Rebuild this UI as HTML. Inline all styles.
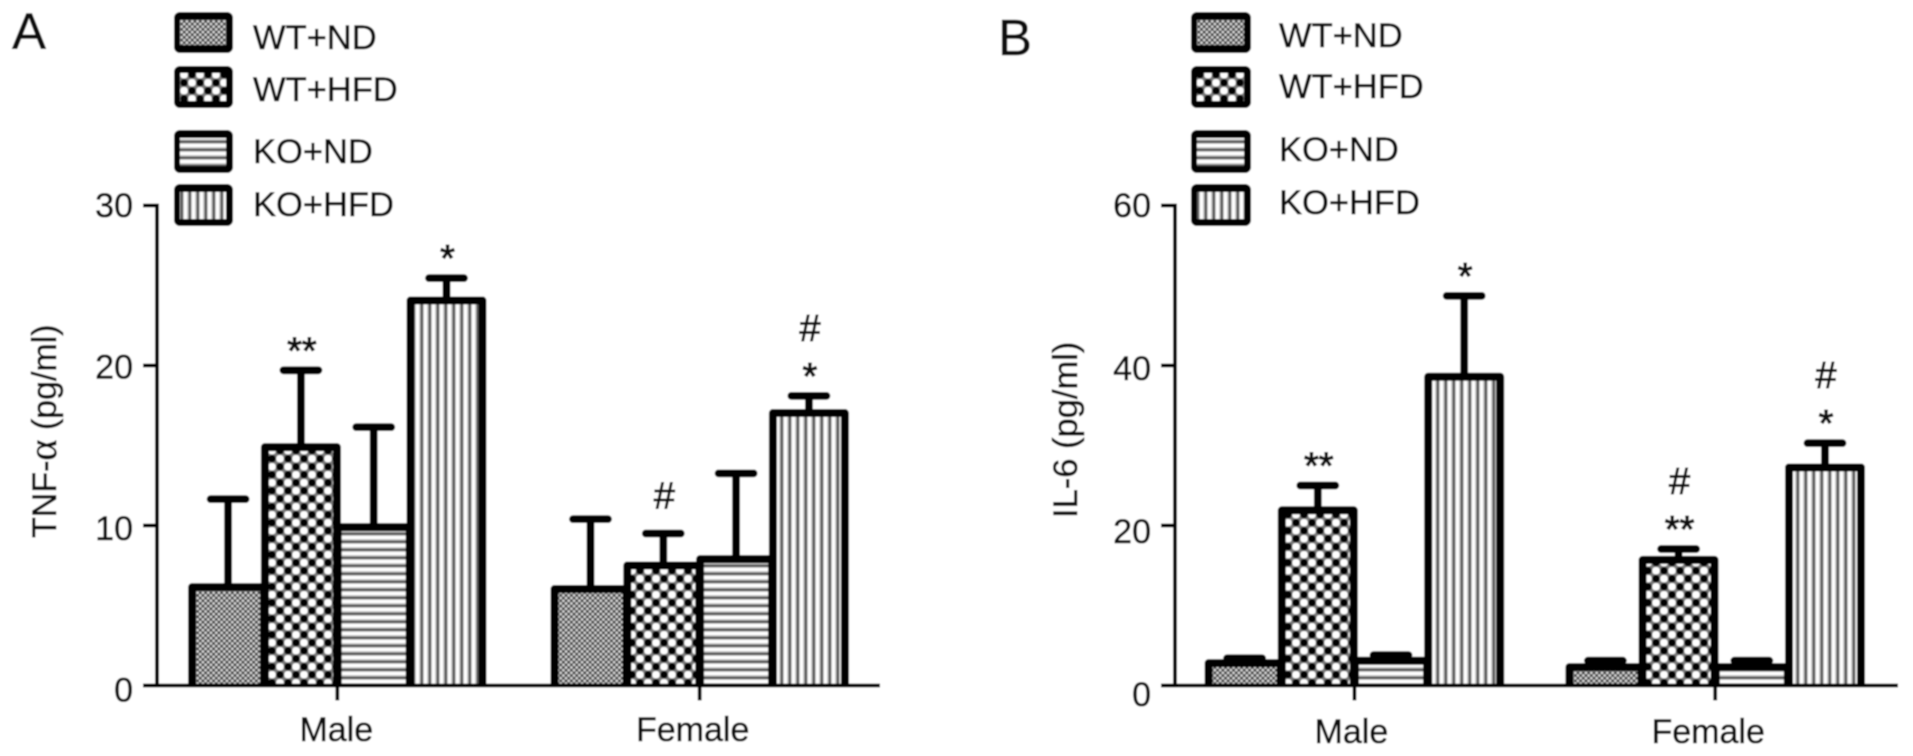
<!DOCTYPE html>
<html lang="en">
<head>
<meta charset="utf-8">
<title>TNF-α and IL-6 bar charts</title>
<style>
  html, body { margin: 0; padding: 0; background: #fff; }
  body { width: 1913px; height: 756px; overflow: hidden; }
  svg { display: block; }
  text { font-family: "Liberation Sans", sans-serif; fill: #0c0c0c; stroke: #0c0c0c; stroke-width: 0.55px; }
</style>
</head>
<body>
<svg id="figure" xmlns="http://www.w3.org/2000/svg" width="1913" height="756" viewBox="0 0 1913 756">
  <defs>
    <filter id="soften" filterUnits="userSpaceOnUse" x="0" y="0" width="1913" height="756">
      <feGaussianBlur stdDeviation="0.75"/>
    </filter>
    <pattern id="p-wt-nd" patternUnits="userSpaceOnUse" width="5.34" height="5.34">
      <rect width="5.34" height="5.34" fill="#7d7d7d"/>
      <circle cx="0" cy="0" r="1.1" fill="#e6e6e6"/>
      <circle cx="5.34" cy="0" r="1.1" fill="#e6e6e6"/>
      <circle cx="0" cy="5.34" r="1.1" fill="#e6e6e6"/>
      <circle cx="5.34" cy="5.34" r="1.1" fill="#e6e6e6"/>
      <circle cx="2.67" cy="2.67" r="1.1" fill="#e6e6e6"/>
      <circle cx="2.67" cy="0" r="1" fill="#222"/>
      <circle cx="2.67" cy="5.34" r="1" fill="#222"/>
      <circle cx="0" cy="2.67" r="1" fill="#222"/>
      <circle cx="5.34" cy="2.67" r="1" fill="#222"/>
    </pattern>
    <pattern id="p-wt-hfd" patternUnits="userSpaceOnUse" x="4" y="6.7" width="16" height="16">
      <rect width="16" height="16" fill="#7a7a7a"/>
      <rect x="0.4" y="0.4" width="7.2" height="7.2" rx="3" fill="#fff"/>
      <rect x="8.4" y="8.4" width="7.2" height="7.2" rx="3" fill="#fff"/>
      <rect x="8.4" y="0.4" width="7.2" height="7.2" rx="3" fill="#000"/>
      <rect x="0.4" y="8.4" width="7.2" height="7.2" rx="3" fill="#000"/>
    </pattern>
    <pattern id="p-ko-nd" patternUnits="userSpaceOnUse" width="8" height="8">
      <rect width="8" height="8" fill="#c4c4c4"/>
      <rect x="0" y="0" width="8" height="3" fill="#fff"/>
      <rect x="0" y="4.5" width="8" height="2.5" fill="#555"/>
    </pattern>
    <pattern id="p-ko-hfd" patternUnits="userSpaceOnUse" width="8" height="8">
      <rect width="8" height="8" fill="#c4c4c4"/>
      <rect x="0" y="0" width="3" height="8" fill="#fff"/>
      <rect x="4.5" y="0" width="2.5" height="8" fill="#555"/>
    </pattern>
  </defs>
  <g id="root" filter="url(#soften)">
    <rect width="1913" height="756" fill="#fff"/>

    <text x="12" y="49" font-size="51">A</text>
    <text x="998" y="55" font-size="51">B</text>

    <g>
      <g>
        <rect x="174" y="12" width="59" height="41" rx="6" fill="#000"/>
        <rect x="180" y="20" width="46" height="25" fill="url(#p-wt-nd)"/>
        <text x="253" y="49" font-size="34.5">WT+ND</text>
      </g>
      <g>
        <rect x="174" y="66" width="59" height="42" rx="6" fill="#000"/>
        <rect x="180" y="73" width="46" height="28" fill="url(#p-wt-hfd)"/>
        <text x="253" y="101" font-size="34.5">WT+HFD</text>
      </g>
      <g>
        <rect x="174" y="130" width="59" height="43" rx="6" fill="#000"/>
        <rect x="180" y="138" width="46" height="28" fill="url(#p-ko-nd)"/>
        <text x="253" y="163" font-size="34.5">KO+ND</text>
      </g>
      <g>
        <rect x="174" y="184" width="59" height="42" rx="6" fill="#000"/>
        <rect x="180" y="192" width="46" height="27" fill="url(#p-ko-hfd)"/>
        <text x="253" y="216" font-size="34.5">KO+HFD</text>
      </g>
    </g>

    <g>
      <g>
        <rect x="1191" y="12" width="60" height="41" rx="6" fill="#000"/>
        <rect x="1197" y="20" width="47" height="25" fill="url(#p-wt-nd)"/>
        <text x="1279" y="47" font-size="34.5">WT+ND</text>
      </g>
      <g>
        <rect x="1191" y="66" width="60" height="42" rx="6" fill="#000"/>
        <rect x="1197" y="73" width="47" height="28" fill="url(#p-wt-hfd)"/>
        <text x="1279" y="98" font-size="34.5">WT+HFD</text>
      </g>
      <g>
        <rect x="1191" y="130" width="60" height="43" rx="6" fill="#000"/>
        <rect x="1197" y="138" width="47" height="28" fill="url(#p-ko-nd)"/>
        <text x="1279" y="161" font-size="34.5">KO+ND</text>
      </g>
      <g>
        <rect x="1191" y="184" width="60" height="42" rx="6" fill="#000"/>
        <rect x="1197" y="192" width="47" height="27" fill="url(#p-ko-hfd)"/>
        <text x="1279" y="214" font-size="34.5">KO+HFD</text>
      </g>
    </g>

    <text transform="translate(56 538) rotate(-90)" font-size="34">TNF-<tspan font-family="'Liberation Serif', serif" font-size="40">α</tspan> (pg/ml)</text>
    <text transform="translate(1077 518) rotate(-90)" font-size="34.5">IL-6 (pg/ml)</text>
  </g>
</svg>
<script>
const groupLabels = ['Male', 'Female'];
const seriesPatterns = ['p-wt-nd', 'p-wt-hfd', 'p-ko-nd', 'p-ko-hfd'];
const seriesKeys = ['wt-nd', 'wt-hfd', 'ko-nd', 'ko-hfd'];

const tnfTicks = [0, 10, 20, 30];
const tnfMaleMeans = [6.15, 14.9, 9.9, 24.06];
const tnfFemaleMeans = [6.03, 7.5, 7.9, 17.03];
const tnfMaleErrors = [5.5, 4.8, 6.25, 1.4];
const tnfFemaleErrors = [4.37, 2.0, 5.36, 1.07];
const tnfMaleMarks = ['', '**', '', '*'];
const tnfFemaleMarks = ['', '#', '', '*#'];

const il6Ticks = [0, 20, 40, 60];
const il6MaleMeans = [2.8, 21.9, 3.1, 38.6];
const il6FemaleMeans = [2.3, 15.7, 2.3, 27.25];
const il6MaleErrors = [0.6, 3.1, 0.7, 10.1];
const il6FemaleErrors = [0.8, 1.36, 0.8, 3.05];
const il6MaleMarks = ['', '**', '', '*'];
const il6FemaleMarks = ['', '**#', '', '*#'];

const NS = 'http://www.w3.org/2000/svg';
const root = document.getElementById('root');

function make(tag, attrs, parent, text) {
  const el = document.createElementNS(NS, tag);
  for (const k in attrs) el.setAttribute(k, attrs[k]);
  if (text !== undefined) el.textContent = text;
  parent.appendChild(el);
  return el;
}

function drawPanel(panel) {
  const baseY = 685.5;
  const plotH = 480;
  const yMax = panel.ticks[panel.ticks.length - 1];
  const yScale = v => baseY - (v / yMax) * plotH;
  const yLabelScale = v => 217 + (1 - v / yMax) * panel.labelSpan;
  const pitch = panel.pitch;
  const halfBar = 36;
  const xGroup = g => panel.axisX + panel.groupOffset + g * panel.groupStep;
  const xBar = (g, s) => xGroup(g) + (s - 1.5) * pitch;

  const chart = make('g', {}, root);
  
  

  panel.means.forEach((means, g) => {
    means.forEach((mean, s) => {
      const cx = xBar(g, s);
      const top = yScale(mean);
      const errTop = yScale(mean + panel.errors[g][s]);

      const barGroup = make('g', {}, chart);
      
      

      const stem = make('line', { x1: cx, x2: cx, y1: top, y2: errTop, stroke: '#000', 'stroke-width': 7.8 }, barGroup);
      
      

      const cap = make('line', { x1: cx - 17.5, x2: cx + 17.5, y1: errTop, y2: errTop, stroke: '#000', 'stroke-width': 7.8, 'stroke-linecap': 'round' }, barGroup);
      
      

      const fill = make('rect', { x: cx - halfBar, y: top, width: halfBar * 2, height: baseY - top, fill: 'url(#' + seriesPatterns[s] + ')' }, barGroup);
      
      

      const outline = make('path', {
        d: 'M' + (cx - halfBar) + ' ' + baseY + 'V' + top + 'H' + (cx + halfBar) + 'V' + baseY,
        fill: 'none', stroke: '#000', 'stroke-width': 8, 'stroke-linejoin': 'round'
      }, barGroup);
      
      

      const mark = panel.marks[g][s];
      const stars = mark.replace(/#/g, '');
      const hasHash = mark.indexOf('#') >= 0;
      if (stars) {
        const starText = make('text', { x: cx + 1, y: errTop - 25 + 18, 'font-size': 38, 'text-anchor': 'middle', style: 'stroke-width:1.1px' }, barGroup, stars);
        
        
      }
      if (hasHash) {
        const hashOffset = stars ? 68 : 38;
        const hashText = make('text', { x: cx + 1, y: errTop - hashOffset + 13, 'font-size': 38, 'text-anchor': 'middle', style: 'stroke-width:0.9px' }, barGroup, '#');
        
        
      }
    });
  });

  const yAxisLine = make('line', { x1: panel.axisX, x2: panel.axisX, y1: yScale(yMax) - 1.9, y2: baseY + 1.9, stroke: '#000', 'stroke-width': 3.8 }, chart);
  
  

  const xAxisLine = make('line', { x1: panel.axisX - 14, x2: panel.axisEnd, y1: baseY, y2: baseY, stroke: '#000', 'stroke-width': 3.8 }, chart);
  
  

  panel.ticks.forEach(t => {
    const tick = make('line', { x1: panel.axisX - 14, x2: panel.axisX, y1: yScale(t), y2: yScale(t), stroke: '#000', 'stroke-width': 3.8 }, chart);
    
    

    const label = make('text', { x: panel.axisX - 24, y: yLabelScale(t), 'font-size': 34, 'text-anchor': 'end' }, chart, String(t));
    
    
  });

  groupLabels.forEach((name, g) => {
    const tick = make('line', { x1: xGroup(g), x2: xGroup(g), y1: baseY, y2: baseY + 15, stroke: '#000', 'stroke-width': 3.8 }, chart);
    
    

    const label = make('text', { x: xGroup(g) + panel.labelShift[g], y: panel.labelY, 'font-size': 34, 'text-anchor': 'middle' }, chart, name);
    
    
  });
}

drawPanel({
  name: 'tnf-alpha-chart', axisX: 157, axisEnd: 880, groupOffset: 180.3, groupStep: 362.4, pitch: 72.8,
  ticks: tnfTicks,
  means: [tnfMaleMeans, tnfFemaleMeans],
  errors: [tnfMaleErrors, tnfFemaleErrors],
  marks: [tnfMaleMarks, tnfFemaleMarks],
  labelShift: [-1, -7], labelY: 741, labelSpan: 484.7
});
drawPanel({
  name: 'il-6-chart', axisX: 1175, axisEnd: 1898, groupOffset: 179.4, groupStep: 360.8, pitch: 73.2,
  ticks: il6Ticks,
  means: [il6MaleMeans, il6FemaleMeans],
  errors: [il6MaleErrors, il6FemaleErrors],
  marks: [il6MaleMarks, il6FemaleMarks],
  labelShift: [-3, -7], labelY: 743, labelSpan: 489
});
</script>
</body>
</html>
